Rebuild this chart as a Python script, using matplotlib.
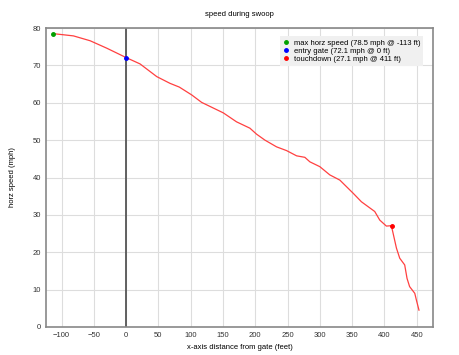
import matplotlib
matplotlib.use("Agg")
import matplotlib.pyplot as plt

plt.rcParams['font.family'] = ['Liberation Sans', 'DejaVu Sans']

# speed profile (x in feet from gate, horizontal speed in mph)
dist = [-113, -97, -81.5, -55.7, -29.8, 0, 21.6, 47.5, 68, 82.4, 101.6, 117, 150.5,
        171, 191.7, 202, 215, 233, 248.5, 264, 276.8, 284.5, 300, 315.4, 331,
        338.6, 351.5, 364.4, 385, 392.8, 403, 410.8, 418.6, 423.7, 431.4, 435,
        439, 447, 449.5, 453.5]
speed = [78.5, 78.2, 77.9, 76.6, 74.6, 72.1, 70.4, 67, 65.2, 64.2, 62.1, 60.1, 57.3,
         54.9, 53.2, 51.6, 50, 48.2, 47.2, 45.8, 45.4, 44.2, 42.9, 40.7, 39.3,
         38, 35.8, 33.5, 30.9, 28.6, 27, 27.1, 21.1, 18.4, 16.6, 13,
         10.8, 9, 7.2, 4.5]

max_pt = (-113, 78.5)
gate_pt = (0, 72.1)
touch_pt = (411, 27.1)

fig = plt.figure(figsize=(4.6, 3.55), dpi=100)
ax = fig.add_axes([0.1, 0.079, 0.841, 0.842])

ax.plot(dist, speed, color="#ff4040", lw=0.9, zorder=3)
ax.axvline(0, color="#555555", lw=1.3, zorder=2)

ax.plot(*max_pt, "o", color="#00a000", ms=2.5, zorder=4,
        label="max horz speed (78.5 mph @ -113 ft)")
ax.plot(*gate_pt, "o", color="#0000ff", ms=2.5, zorder=4,
        label="entry gate (72.1 mph @ 0 ft)")
ax.plot(*touch_pt, "o", color="#ff0000", ms=2.5, zorder=4,
        label="touchdown (27.1 mph @ 411 ft)")

ax.set_xlim(-124, 475)
ax.set_ylim(0, 80)
ax.set_xticks(range(-100, 451, 50))
ax.set_yticks(range(0, 81, 10))
ax.grid(True, color="#dddddd", lw=0.8)
ax.set_axisbelow(True)
ax.tick_params(labelsize=5.5, length=0, pad=3.5, colors="#333333")
for s in ax.spines.values():
    s.set_color("#888888")
    s.set_linewidth(1.2)

ax.set_title("speed during swoop", fontsize=5.5, pad=9)
ax.set_xlabel("x-axis distance from gate (feet)", fontsize=5.5, labelpad=4)
ax.set_ylabel("horz speed (mph)", fontsize=5.5, labelpad=12)

leg = ax.legend(loc="upper right", fontsize=5.5, frameon=True, handlelength=0.8,
                handletextpad=0.6, labelspacing=0.1, borderpad=0.4,
                fancybox=False, bbox_to_anchor=(0.985, 0.985))
leg.get_frame().set_facecolor("#f0f0f0")
leg.get_frame().set_edgecolor("none")
leg.get_frame().set_alpha(1)

fig.savefig("out.png", dpi=100)
